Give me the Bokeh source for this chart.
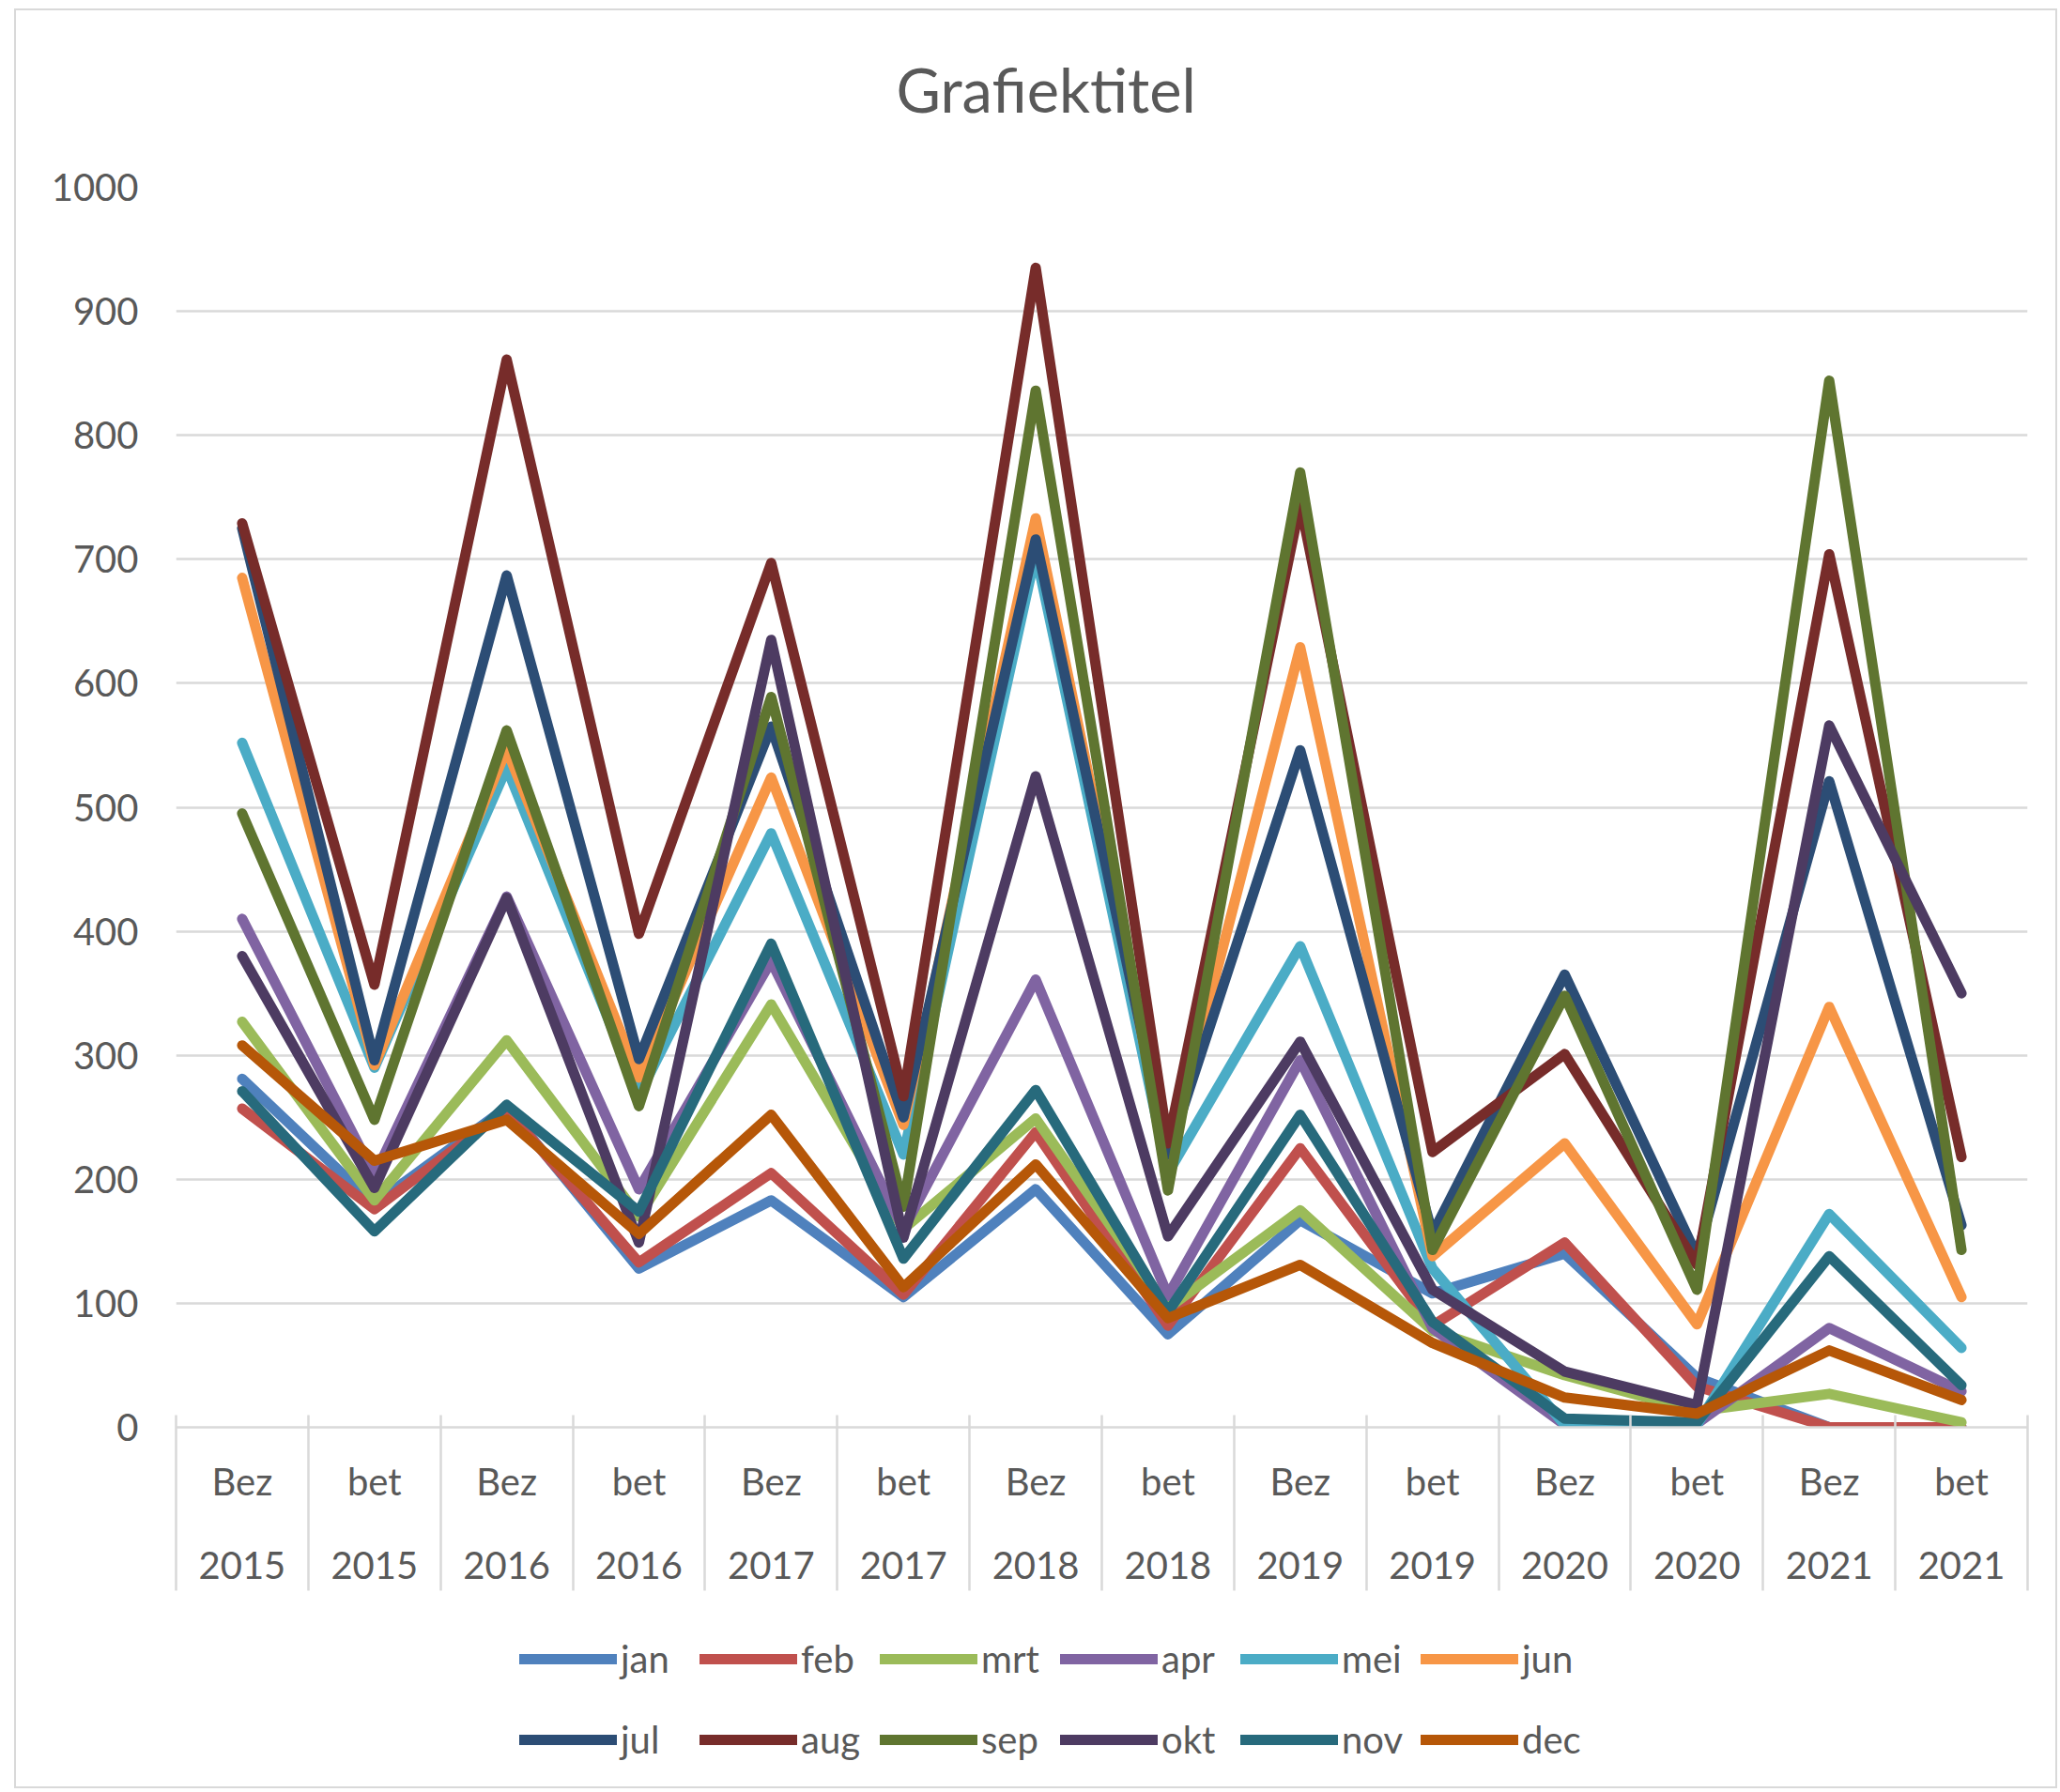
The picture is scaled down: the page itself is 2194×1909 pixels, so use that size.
from bokeh.plotting import figure
from bokeh.layouts import column
from bokeh.models import Range1d, LinearAxis, FixedTicker, Legend, LegendItem, Grid, Title
from bokeh.embed import file_html
from bokeh.resources import INLINE

categories = ["Bez 2015", "bet 2015", "Bez 2016", "bet 2016", "Bez 2017", "bet 2017",
              "Bez 2018", "bet 2018", "Bez 2019", "bet 2019", "Bez 2020", "bet 2020",
              "Bez 2021", "bet 2021"]
kinds = [c.split(" ")[0] for c in categories]
years = [c.split(" ")[1] for c in categories]

y_ticks = [0, 100, 200, 300, 400, 500, 600, 700, 800, 900, 1000]

months = ["jan", "feb", "mrt", "apr", "mei", "jun", "jul", "aug", "sep", "okt", "nov", "dec"]
colors = ["#4F81BD", "#C0504D", "#9BBB59", "#8064A2", "#4BACC6", "#F79646",
          "#2C4D75", "#772C2A", "#5F7530", "#4D3B62", "#276A7C", "#B65708"]

jan = [281, 180, 258, 128, 183, 105, 192, 75, 167, 108, 140, 40, 0, 0]
feb = [257, 176, 256, 133, 205, 107, 238, 82, 225, 82, 149, 33, 0, 0]
mrt = [327, 183, 312, 170, 341, 160, 249, 96, 175, 78, 42, 13, 27, 4]
apr = [410, 203, 428, 192, 376, 160, 361, 106, 296, 80, 2, 3, 80, 29]
mei = [552, 290, 532, 268, 479, 220, 705, 205, 388, 128, 2, 2, 172, 64]
jun = [685, 292, 547, 282, 524, 244, 733, 215, 629, 138, 229, 83, 339, 105]
jul = [725, 296, 687, 297, 565, 250, 716, 220, 546, 156, 365, 138, 521, 163]
aug = [729, 357, 861, 398, 697, 267, 935, 229, 745, 222, 301, 131, 704, 218]
sep = [495, 248, 562, 259, 589, 178, 836, 191, 770, 143, 348, 111, 844, 143]
okt = [380, 193, 427, 149, 635, 153, 525, 154, 311, 111, 45, 18, 566, 350]
nov = [271, 158, 260, 174, 390, 136, 272, 93, 252, 85, 7, 4, 138, 34]
dec = [308, 215, 248, 156, 252, 113, 212, 88, 131, 68, 24, 11, 62, 22]

series = [jan, feb, mrt, apr, mei, jun, jul, aug, sep, okt, nov, dec]

FONT = "Lato"
TXT = "#595959"
GRID = "#d9d9d9"

x = list(range(len(categories)))

p = figure(width=2172, height=1696, output_backend="svg", toolbar_location=None,
           x_range=Range1d(-0.5, len(categories) - 0.5), y_range=Range1d(0, 1000),
           x_axis_type=None, y_axis_type=None,
           min_border_left=170, min_border_right=30, min_border_top=188, min_border_bottom=187)
p.outline_line_color = None
p.background_fill_color = "white"
p.border_fill_color = "white"

# spacer between plot area and title, then the title itself
spacer = Title(text=" ", text_font_size="20px", standoff=38, text_font=FONT)
p.add_layout(spacer, "above")
title = Title(text="Grafiektitel", text_font=FONT, text_font_size="65px",
              text_font_style="normal", text_color=TXT, align="left", offset=767,
              vertical_align="top", standoff=0)
p.add_layout(title, "above")

# y axis
yax = LinearAxis(ticker=FixedTicker(ticks=y_ticks))
yax.axis_line_color = None
yax.major_tick_line_color = None
yax.minor_tick_line_color = None
yax.major_label_standoff = 34
yax.major_label_text_font = FONT
yax.major_label_text_font_size = "40px"
yax.major_label_text_color = TXT
p.add_layout(yax, "left")
p.add_layout(Grid(dimension=1, ticker=yax.ticker, grid_line_color=GRID, grid_line_width=2.5))

# x axis, first row (kinds)
xa = LinearAxis(ticker=FixedTicker(ticks=x),
                major_label_overrides={i: k for i, k in enumerate(kinds)})
xa.axis_line_color = GRID
xa.axis_line_width = 2.5
xa.major_tick_line_color = None
xa.minor_tick_line_color = None
xa.major_tick_out = 0
xa.major_tick_in = 0
xa.major_label_standoff = 33
xa.major_label_text_font = FONT
xa.major_label_text_font_size = "40px"
xa.major_label_text_color = TXT
p.add_layout(xa, "below")

# x axis, second row (years)
xb = LinearAxis(ticker=FixedTicker(ticks=x),
                major_label_overrides={i: y for i, y in enumerate(years)})
xb.axis_line_color = None
xb.major_tick_line_color = None
xb.minor_tick_line_color = None
xb.major_tick_out = 0
xb.major_tick_in = 0
xb.major_label_standoff = 48
xb.major_label_text_font = FONT
xb.major_label_text_font_size = "40px"
xb.major_label_text_color = TXT
p.add_layout(xb, "below")

# category separators: ticks pointing up from below the labels to the axis
bounds = [i - 0.5 for i in range(len(categories) + 1)]
xc = LinearAxis(ticker=FixedTicker(ticks=bounds))
xc.axis_line_color = None
xc.major_tick_line_color = GRID
xc.major_tick_line_width = 2.5
xc.major_tick_in = 177
xc.major_tick_out = 10
xc.minor_tick_line_color = None
xc.major_label_standoff = 0
xc.major_label_text_font_size = "0px"
xc.major_label_text_alpha = 0
p.add_layout(xc, "below")

for name, vals, col in zip(months, series, colors):
    p.line(x, vals, line_color=col, line_width=11, line_cap="round", line_join="round")

# legend strip below the chart (its series lie outside its visible range)
lg = figure(width=2172, height=196, output_backend="svg", toolbar_location=None,
            x_range=Range1d(-0.5, len(categories) - 0.5), y_range=Range1d(-2000, -1000),
            x_axis_type=None, y_axis_type=None,
            min_border_left=0, min_border_right=0, min_border_top=0, min_border_bottom=0)
lg.outline_line_color = None
lg.grid.visible = False
lg.background_fill_color = "white"
lg.border_fill_color = "white"
items = []
for name, vals, col in zip(months, series, colors):
    r = lg.line(x, vals, line_color=col, line_width=11, line_cap="round")
    items.append(LegendItem(label=name, renderers=[r]))
legend = Legend(items=items, orientation="horizontal", ncols=6, location=(366, 16),
                glyph_width=104, glyph_height=68, label_standoff=4, label_width=66, spacing=18,
                padding=0, margin=0, border_line_color=None, background_fill_alpha=0,
                label_text_font=FONT, label_text_font_size="40px", label_text_color=TXT)
lg.add_layout(legend, "center")

layout = column(p, lg, spacing=0)
layout.margin = (9, 0, 0, 15)
layout.styles = {"border": "2px solid #d9d9d9"}

open("out.html", "w").write(file_html(layout, INLINE))
